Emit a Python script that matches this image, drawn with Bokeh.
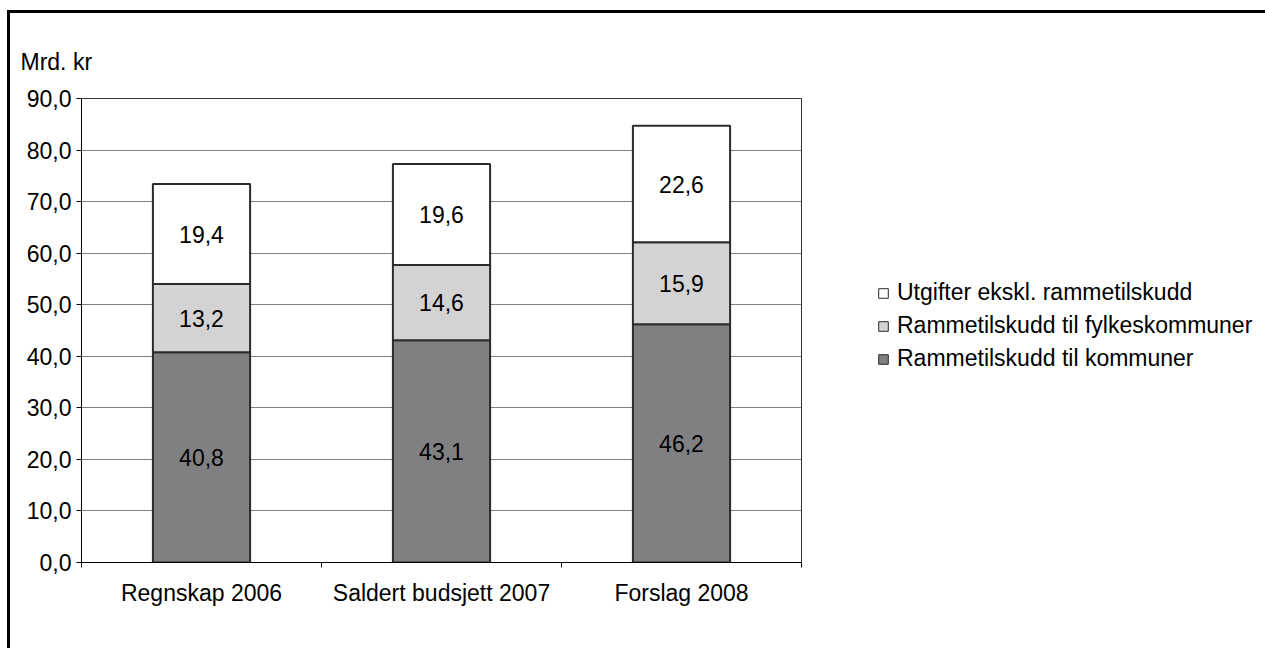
from bokeh.plotting import figure
from bokeh.layouts import row
from bokeh.models import ColumnDataSource, FixedTicker, Legend, LegendItem
from bokeh.core.properties import value
from bokeh.embed import file_html
from bokeh.resources import INLINE

categories = ["Regnskap 2006", "Saldert budsjett 2007", "Forslag 2008"]
kommuner = [40.8, 43.1, 46.2]
fylkeskommuner = [13.2, 14.6, 15.9]
utgifter = [19.4, 19.6, 22.6]
series_names = ["Rammetilskudd til kommuner",
                "Rammetilskudd til fylkeskommuner",
                "Utgifter ekskl. rammetilskudd"]
series_colors = ["#808083", "#d3d3d3", "#ffffff"]
y_ticks = [0, 10, 20, 30, 40, 50, 60, 70, 80, 90]
y_unit = "Mrd. kr"

FONT = "Liberation Sans"
FS = "23px"
LINE = "#2b2b2b"

xs = [i + 0.5 for i in range(len(categories))]
boundaries = list(range(len(categories) + 1))

def fmt(v):
    return f"{v:.1f}".replace(".", ",")

src = ColumnDataSource(dict(x=xs, k=kommuner, f=fylkeskommuner, u=utgifter))

p = figure(width=795, height=635, x_range=(0, len(categories)), y_range=(0, 90),
           output_backend="svg", toolbar_location=None,
           min_border_left=71, min_border_right=4, min_border_top=85, min_border_bottom=86)

p.title.text = y_unit
p.title.text_font = FONT
p.title.text_font_size = FS
p.title.text_font_style = "normal"
p.title.text_color = "#000000"
p.title.align = "left"
p.title.offset = -61
p.title.standoff = 48

renderers = p.vbar_stack(["k", "f", "u"], x="x", width=0.405, source=src,
                         fill_color=series_colors, line_color=LINE, line_width=2)

# segment value labels
lx, ly, lt = [], [], []
for i in range(len(categories)):
    base = 0.0
    for ser in (kommuner, fylkeskommuner, utgifter):
        lx.append(xs[i]); ly.append(base + ser[i] / 2); lt.append(fmt(ser[i]))
        base += ser[i]
p.text(x=lx, y=ly, text=lt, text_align="center", text_baseline="middle",
       text_font=value(FONT), text_font_size=FS, text_color="#000000")

# axes
p.yaxis.ticker = FixedTicker(ticks=y_ticks, minor_ticks=[])
p.yaxis.major_label_overrides = {t: fmt(t) for t in y_ticks}
p.yaxis.major_label_text_font = FONT
p.yaxis.major_label_text_font_size = FS
p.yaxis.major_label_text_color = "#000000"
p.yaxis.major_tick_out = 5
p.yaxis.major_tick_in = 0
p.yaxis.major_tick_line_color = "#000000"
p.yaxis.axis_line_color = "#000000"
p.yaxis.major_label_standoff = 5

p.xaxis.ticker = FixedTicker(ticks=xs, minor_ticks=boundaries)
p.xaxis.major_label_overrides = {x: c for x, c in zip(xs, categories)}
p.xaxis.major_label_text_font = FONT
p.xaxis.major_label_text_font_size = FS
p.xaxis.major_label_text_color = "#000000"
p.xaxis.major_tick_line_color = None
p.xaxis.minor_tick_out = 5
p.xaxis.minor_tick_in = 0
p.xaxis.minor_tick_line_color = "#000000"
p.xaxis.axis_line_color = "#000000"
p.xaxis.major_label_standoff = 11

p.xgrid.visible = False
p.ygrid.ticker = FixedTicker(ticks=y_ticks, minor_ticks=[])
p.ygrid.grid_line_color = "#808080"
p.ygrid.grid_line_width = 1
p.outline_line_color = "#333333"
p.outline_line_width = 1

# legend panel (separate figure to the right of the chart); its stacked bars
# lie outside its visible ranges, only the legend is shown
q = figure(width=460, height=635, output_backend="svg", toolbar_location=None,
           x_axis_type=None, y_axis_type=None, min_border=0,
           x_range=(-20, -10), y_range=(0, 90))
q.outline_line_color = None
q.xgrid.visible = False
q.ygrid.visible = False
leg_renderers = q.vbar_stack(["k", "f", "u"], x="x", width=0.405, source=src,
                             fill_color=series_colors, line_color=LINE, line_width=1)
items = [LegendItem(label=series_names[i], renderers=[leg_renderers[i]])
         for i in reversed(range(len(series_names)))]
legend = Legend(items=items, location=(72, 190), margin=0, padding=0,
                border_line_color=None, background_fill_alpha=0,
                glyph_width=12, glyph_height=12, label_text_font=FONT,
                label_text_font_size=FS, label_text_color="#000000",
                label_standoff=8, spacing=6, label_height=22)
q.add_layout(legend)

layout = row(p, q, styles={"border-top": "3px solid #000", "border-left": "3px solid #000",
                           "margin-left": "7px", "margin-top": "10px"})

open("out.html", "w").write(file_html(layout, INLINE))
